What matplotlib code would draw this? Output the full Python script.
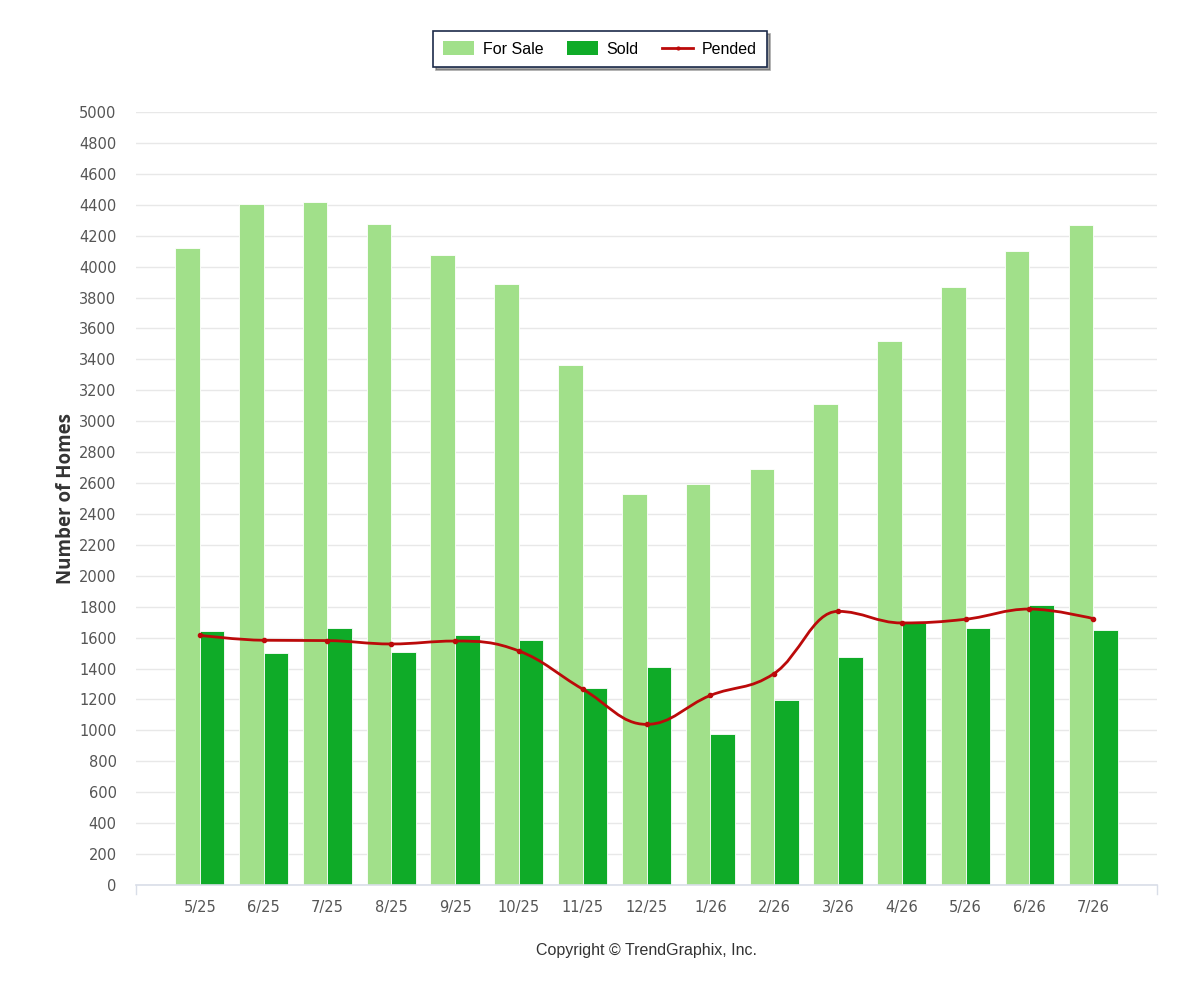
import matplotlib
matplotlib.use("Agg")
import matplotlib.pyplot as plt
import numpy as np
from matplotlib.path import Path
from matplotlib.patches import PathPatch, Patch
from matplotlib.lines import Line2D

months = ["5/25", "6/25", "7/25", "8/25", "9/25", "10/25", "11/25", "12/25",
          "1/26", "2/26", "3/26", "4/26", "5/26", "6/26", "7/26"]
for_sale = [4120, 4408, 4420, 4278, 4076, 3886, 3363, 2531, 2596, 2692, 3110, 3518, 3867, 4103, 4271]
sold = [1645, 1503, 1665, 1509, 1619, 1587, 1273, 1409, 974, 1196, 1473, 1695, 1665, 1813, 1652]
pended = [1615, 1583, 1581, 1559, 1578, 1514, 1267, 1039, 1226, 1368, 1770, 1695, 1719, 1785, 1723]
y_ticks = list(range(0, 5001, 200))

C_SALE = "#a1e08a"
C_SOLD = "#0fab28"
C_PEND = "#bb0a0a"

tick_font = ["Liberation Sans Narrow", "DejaVu Sans"]

fig = plt.figure(figsize=(12, 10), dpi=100)
ax = fig.add_axes([136/1200, 115/1000, (1157-136)/1200, (885-112)/1000])

x = np.arange(len(months))
w = 0.385
ax.bar(x - w/2, for_sale, width=w, color=C_SALE, edgecolor="white", linewidth=0.6, zorder=2)
ax.bar(x + w/2, sold, width=w, color=C_SOLD, edgecolor="white", linewidth=0.6, zorder=2)

# Highcharts-style spline through pended points
def spline_path(xs, ys, smoothing=1.5):
    n = len(xs)
    denom = smoothing + 1
    verts = [(xs[0], ys[0])]
    codes = [Path.MOVETO]
    ctrl = []
    for i in range(n):
        if i == 0 or i == n - 1:
            ctrl.append(((xs[i], ys[i]), (xs[i], ys[i])))
            continue
        lx, ly = xs[i-1], ys[i-1]
        nx, ny = xs[i+1], ys[i+1]
        px, py = xs[i], ys[i]
        lcx = (smoothing*px + lx)/denom
        lcy = (smoothing*py + ly)/denom
        rcx = (smoothing*px + nx)/denom
        rcy = (smoothing*py + ny)/denom
        if rcx != lcx:
            corr = ((rcy - lcy)*(rcx - px))/(rcx - lcx) + py - rcy
            lcy += corr
            rcy += corr
        if lcy > ly and lcy > py:
            lcy = max(ly, py); rcy = 2*py - lcy
        elif lcy < ly and lcy < py:
            lcy = min(ly, py); rcy = 2*py - lcy
        if rcy > ny and rcy > py:
            rcy = max(ny, py); lcy = 2*py - rcy
        elif rcy < ny and rcy < py:
            rcy = min(ny, py); lcy = 2*py - rcy
        ctrl.append(((lcx, lcy), (rcx, rcy)))
    for i in range(1, n):
        verts += [ctrl[i-1][1], ctrl[i][0], (xs[i], ys[i])]
        codes += [Path.CURVE4]*3
    return Path(verts, codes)

pp = spline_path(list(x.astype(float)), [float(v) for v in pended])
ax.add_patch(PathPatch(pp, facecolor="none", edgecolor=C_PEND, linewidth=2, zorder=4))
ax.plot(x, pended, linestyle="none", marker="o", markersize=3, color=C_PEND, zorder=5)

ax.set_xlim(-1, len(months))
ax.set_ylim(0, 5000)
ax.set_yticks(y_ticks)
ax.set_yticklabels([str(v) for v in y_ticks], family=tick_font, fontsize=10.5, color="#555555")
ax.set_xticks(x)
ax.set_xticklabels(months, family=tick_font, fontsize=10.5, color="#555555")
ax.tick_params(axis="y", length=0, pad=14)
ax.tick_params(axis="x", length=0, pad=11)
ax.grid(axis="y", color="#e8e8e8", linewidth=1, zorder=0)
ax.set_axisbelow(True)
for s in ["top", "right", "left"]:
    ax.spines[s].set_visible(False)
ax.spines["bottom"].set_color("#d9dee8")
ax.spines["bottom"].set_linewidth(1.2)
# end ticks of the x axis
for xe in (-1, len(months)):
    ax.plot([xe, xe], [0, -60], color="#d9dee8", linewidth=1, clip_on=False, zorder=1)

ax.set_ylabel("Number of Homes", fontsize=13.5, fontweight="bold", color="#333333",
              family=["Open Sans", "DejaVu Sans"])
ax.yaxis.set_label_coords((76 - 136) / 1021, 0.5)

handles = [Patch(facecolor=C_SALE, edgecolor="none", label="For Sale"),
           Patch(facecolor=C_SOLD, edgecolor="none", label="Sold"),
           Line2D([0], [0], color=C_PEND, linewidth=2, marker="o", markersize=2, label="Pended")]
leg = fig.legend(handles=handles, loc="center", bbox_to_anchor=(600/1200, 1 - 49/1000), ncol=3,
                 frameon=True, fancybox=False, shadow=True, prop={"family": "Liberation Sans", "size": 11.5},
                 handlelength=1.9, handleheight=0.9, columnspacing=1.5, handletextpad=0.55,
                 borderpad=0.65)
leg.get_frame().set_edgecolor("#1c2b4a")
leg.get_frame().set_linewidth(1.2)

fig.text(647/1200, 1 - 950/1000, "Copyright © TrendGraphix, Inc.", ha="center", va="center",
         fontsize=11.5, color="#333333", family=["Liberation Sans", "DejaVu Sans"])

fig.savefig("out.png", dpi=100, facecolor="white")
